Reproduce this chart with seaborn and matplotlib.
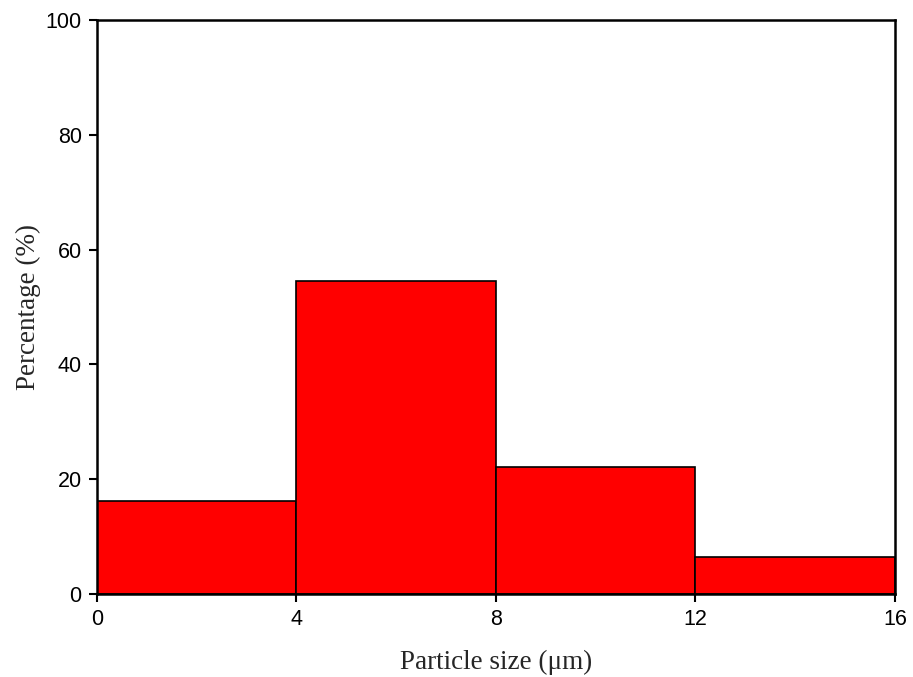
import numpy as np
import matplotlib
matplotlib.use("Agg")
import matplotlib.pyplot as plt
import seaborn as sns

# bin edges (um) and percentage in each bin
bin_edges = [0, 4, 8, 12, 16]
bin_centers = [2, 6, 10, 14]
percentages = [16.2, 54.6, 22.1, 6.4]

sns.set_style("ticks")
plt.rcParams['font.family'] = ['Liberation Sans', 'DejaVu Sans']

fig = plt.figure(figsize=(9.13, 6.77), dpi=100)
ax = fig.add_axes([0.1062, 0.1226, 0.8740, 0.8479])

sns.histplot(x=bin_centers, weights=percentages, bins=bin_edges, stat="count",
             color="#ff0000", edgecolor="black", linewidth=1.2, alpha=1, ax=ax)

ax.set_xlim(0, 16)
ax.set_ylim(0, 100)
ax.set_xticks([0, 4, 8, 12, 16])
ax.set_yticks([0, 20, 40, 60, 80, 100])
ax.tick_params(direction="out", length=6, width=1.5, labelsize=15.5, colors="black",
               top=False, right=False, pad=5)
for s in ax.spines.values():
    s.set_visible(True)
    s.set_linewidth(1.8)
    s.set_color("black")

serif = ['Liberation Serif', 'DejaVu Serif']
ax.set_xlabel("Particle size (\u03bcm)", fontsize=19.5, family=serif, labelpad=14)
ax.set_ylabel("Percentage (%)", fontsize=19.5, family=serif, labelpad=3)

fig.savefig("out.png", dpi=100)
